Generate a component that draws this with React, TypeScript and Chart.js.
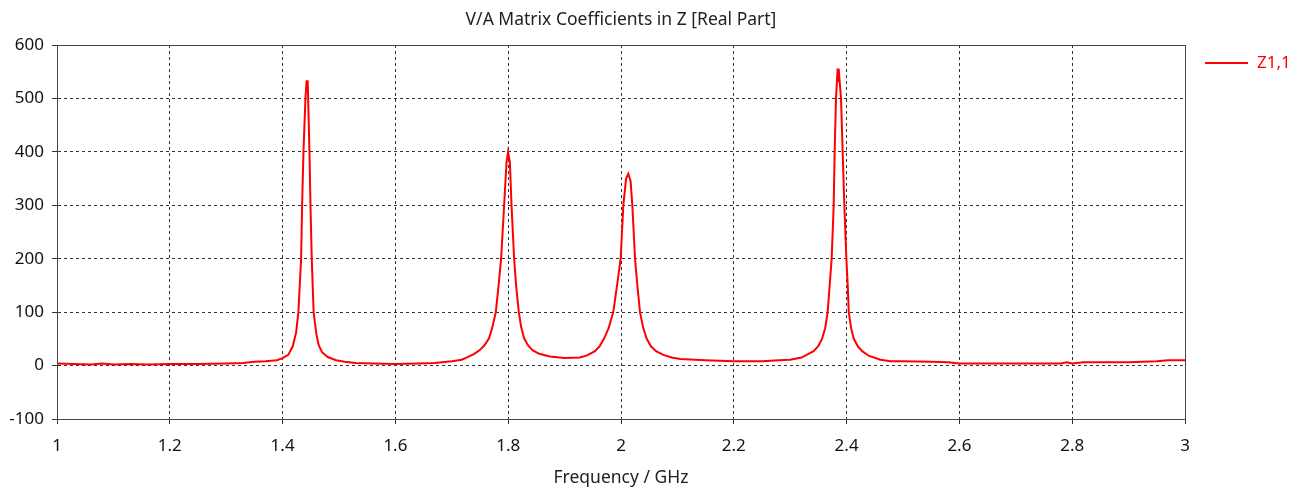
import React, { useEffect, useRef } from "react";
import { Chart, registerables } from "chart.js";

Chart.register(...registerables);

const chartTitle = "V/A Matrix Coefficients in Z [Real Part]";
const xAxisTitle = "Frequency / GHz";
const seriesLabel = "Z1,1";

const frequencies = [
  1.0, 1.03, 1.06, 1.08, 1.1, 1.13, 1.16, 1.2, 1.25, 1.3, 1.33, 1.35, 1.37, 1.39, 1.4, 1.41,
  1.418, 1.424, 1.428, 1.4328, 1.4346, 1.437, 1.4405, 1.4425, 1.4445, 1.4453, 1.4476, 1.4494,
  1.4517, 1.455, 1.46, 1.464, 1.47, 1.48, 1.495, 1.51, 1.53, 1.56, 1.6, 1.64, 1.67, 1.7,
  1.7175, 1.726, 1.74, 1.7496, 1.758, 1.766, 1.772, 1.778, 1.783, 1.7874, 1.7928, 1.797,
  1.7998, 1.803, 1.8059, 1.8105, 1.814, 1.8188, 1.823, 1.8282, 1.835, 1.843, 1.855, 1.874,
  1.9, 1.927, 1.94, 1.9538, 1.962, 1.9698, 1.978, 1.9863, 1.993, 1.9994, 2.0041, 2.009, 2.013,
  2.017, 2.0201, 2.0249, 2.029, 2.0337, 2.039, 2.0456, 2.053, 2.0622, 2.075, 2.09, 2.105,
  2.15, 2.2, 2.25, 2.28, 2.3, 2.32, 2.3415, 2.35, 2.3564, 2.362, 2.3664, 2.37, 2.3735, 2.3771,
  2.3788, 2.3812, 2.3841, 2.385, 2.3859, 2.3901, 2.393, 2.396, 2.3996, 2.402, 2.4038, 2.408,
  2.4127, 2.42, 2.4275, 2.44, 2.46, 2.478, 2.5, 2.55, 2.58, 2.6, 2.7, 2.78, 2.79, 2.8, 2.82,
  2.9, 2.95, 2.97, 3.0,
];

const z11Real = [
  4, 3, 2, 4, 2, 3, 2, 3, 3, 4, 5, 7, 8, 10, 14, 20,
  36, 62, 100, 200, 300, 400, 500, 532, 532, 500, 400, 300,
  200, 100, 58, 38, 25, 16, 10, 7, 5, 4, 3, 4, 5, 8,
  11, 15, 22, 29, 38, 51, 72, 100, 150, 200, 300, 380,
  400, 380, 300, 200, 150, 100, 72, 51, 38, 29, 22, 17,
  14, 15, 19, 27, 36, 50, 70, 100, 150, 200, 300, 350, 359,
  345, 300, 200, 150, 100, 72, 50, 36, 27, 20, 15, 12.5,
  10, 8, 8, 10, 11, 15, 27, 37, 50, 70, 100, 150, 200, 300,
  400, 500, 556, 532, 556, 500, 400, 300, 200, 150, 100, 70,
  50, 36, 27, 18, 11, 8, 8, 7, 6, 4, 4, 4, 6, 4, 6,
  6, 8, 10, 10,
];

const FONT = "'Noto Sans', 'DejaVu Sans', sans-serif";

const framePlugin = {
  id: "frameAndLegend",
  afterDraw(chart: any) {
    const { ctx, chartArea } = chart;
    const { left, top, right, bottom } = chartArea;
    ctx.save();
    ctx.strokeStyle = "#444";
    ctx.lineWidth = 1;
    ctx.setLineDash([]);
    ctx.strokeRect(left + 0.5, top + 0.5, right - left, bottom - top);
    // legend
    const ds = chart.data.datasets[0];
    const ly = top + 18;
    ctx.strokeStyle = ds.borderColor;
    ctx.lineWidth = 2;
    ctx.beginPath();
    ctx.moveTo(right + 20, ly);
    ctx.lineTo(right + 63, ly);
    ctx.stroke();
    ctx.fillStyle = ds.borderColor;
    ctx.font = `17px ${FONT}`;
    ctx.textBaseline = "middle";
    ctx.textAlign = "left";
    ctx.fillText(ds.label, right + 72, ly);
    ctx.restore();
  },
};

export default function App() {
  const canvasRef = useRef<HTMLCanvasElement | null>(null);

  useEffect(() => {
    if (!canvasRef.current) return;
    const points = frequencies.map((f, i) => ({ x: f, y: z11Real[i] }));
    const chart = new Chart(canvasRef.current, {
      type: "line",
      data: {
        datasets: [
          {
            label: seriesLabel,
            data: points,
            borderColor: "#ff0000",
            backgroundColor: "#ff0000",
            borderWidth: 2,
            pointRadius: 0,
            tension: 0,
            fill: false,
          },
        ],
      },
      options: {
        animation: false,
        responsive: true,
        maintainAspectRatio: false,
        layout: { padding: { left: 0, right: 123, top: 0, bottom: 0 } },
        plugins: {
          legend: { display: false },
          tooltip: { enabled: false },
          title: {
            display: true,
            text: chartTitle,
            fullSize: false,
            color: "#222",
            font: { family: FONT, size: 17.5, weight: "normal" },
            padding: { top: 9.5, bottom: 14.5 },
          },
        },
        scales: {
          x: {
            type: "linear",
            min: 1,
            max: 3,
            afterFit: (s: any) => {
              s.height = 72;
            },
            ticks: {
              stepSize: 0.2,
              color: "#111",
              padding: 12,
              font: { family: FONT, size: 17 },
              maxRotation: 0,
              callback: (v: any) => String(Number(Number(v).toFixed(1))),
            },
            grid: {
              color: "#333",
              lineWidth: 1,
              tickLength: 5,
              tickColor: "#333",
            },
            border: { display: true, color: "#444", width: 1, dash: [3, 3] },
            title: {
              display: true,
              text: xAxisTitle,
              color: "#222",
              font: { family: FONT, size: 17.5 },
              padding: { top: 0, bottom: 2.5 },
            },
          },
          y: {
            type: "linear",
            min: -100,
            max: 600,
            afterFit: (s: any) => {
              s.width = 57;
            },
            ticks: {
              stepSize: 100,
              color: "#111",
              padding: 8,
              font: { family: FONT, size: 17 },
            },
            grid: {
              color: "#333",
              lineWidth: 1,
              tickLength: 5,
              tickColor: "#333",
            },
            border: { display: true, color: "#444", width: 1, dash: [3, 3] },
          },
        },
      },
      plugins: [framePlugin],
    });
    return () => chart.destroy();
  }, []);

  return (
    <div
      style={{
        position: "fixed",
        left: 0,
        top: 0,
        width: 1308,
        height: 491,
        background: "#fff",
      }}
    >
      <canvas ref={canvasRef} />
    </div>
  );
}
